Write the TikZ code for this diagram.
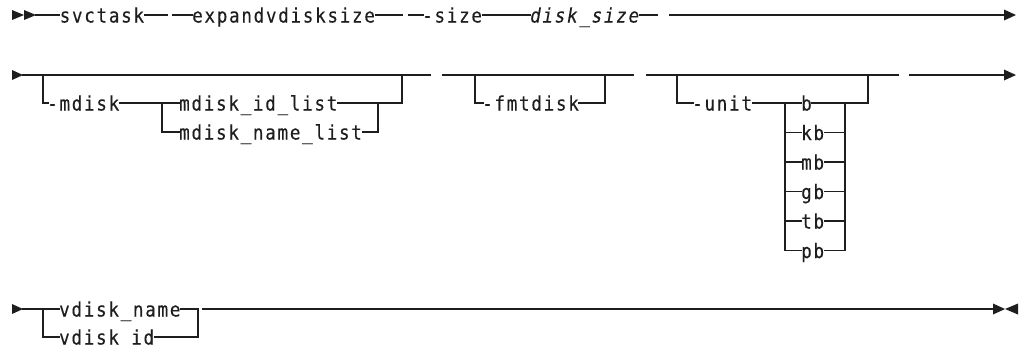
\documentclass[tikz,border=0pt]{standalone}
\usepackage{fontspec}
\usetikzlibrary{calc}
\newfontfamily\sdfont[FakeStretch=0.88,LetterSpace=8.5,FakeBold=0.2]{DejaVu Sans Mono}
\definecolor{ink}{HTML}{1E1E1E}
\begin{document}
\begin{tikzpicture}[x=1pt,y=-1pt,
  rr/.style={draw=ink,line width=1.2pt,line cap=rect},
  tohy/.style={shorten >=-1pt},
  lbl/.style={inner sep=0pt,anchor=base west,text=ink,font=\sdfont\fontsize{20}{22}\selectfont},
  ilbl/.style={lbl,font=\sdfont\itshape\fontsize{20}{22}\selectfont},
  tip/.style={fill=ink}]
\useasboundingbox (0,0) rectangle (1021,349);

% ---------- Row 1 ----------
\fill[tip] (12,10) -- (24,15) -- (12,20) -- cycle;
\fill[tip] (24,10) -- (36,15) -- (24,20) -- cycle;
\coordinate (r1s) at (36,15);
\node[lbl] (svc) at (59.5,22.5) {svctask};
\coordinate (r1g1) at (167,15);
\coordinate (r1g2) at (173,15);
\node[lbl] (exp) at (192,22.5) {expandvdisksize};
\coordinate (r1g3) at (402,15);
\coordinate (r1g4) at (409,15);
\node[lbl] (sz) at (422,22.5) {-size};
\node[ilbl] (dsz) at (530,22.5) {disk\_size};
\coordinate (r1g5) at (657,15);
\coordinate (r1g6) at (670,15);
\coordinate (r1e) at (1005,15);
\draw[rr] (r1s) -- (r1s -| svc.west);
\draw[rr] (r1s -| svc.east) -- (r1g1);
\draw[rr] (r1g2) -- (r1g2 -| exp.west);
\draw[rr] (r1g2 -| exp.east) -- (r1g3);
\draw[rr,tohy] (r1g4) -- (r1g4 -| sz.west);
\draw[rr] (r1g4 -| sz.east) -- (r1g4 -| dsz.west);
\draw[rr] (r1g4 -| dsz.east) -- (r1g5);
\draw[rr] (r1g6) -- (r1e);
\fill[tip] (1004,9.5) -- (1016,15) -- (1004,20.5) -- cycle;

% ---------- Row 2 ----------
\fill[tip] (12,70) -- (23,75) -- (12,80) -- cycle;
\coordinate (r2s) at (23,75);
\coordinate (m0) at (43,75);
\coordinate (m0b) at (43,103);
\coordinate (m5) at (402,75);
\coordinate (r2g1) at (430,75);
\draw[rr] (r2s) -- (r2g1);
\node[lbl] (md) at (47,110.5) {-mdisk};
\coordinate (mj1) at (162,103);
\coordinate (mj1b) at (162,132);
\coordinate (mj2) at (378,103);
\coordinate (mj2b) at (378,132);
\node[lbl] (mid) at (179,110.5) {mdisk\_id\_list};
\node[lbl] (mnm) at (179,139.5) {mdisk\_name\_list};
\draw[rr,tohy] (m0) -- (m0b) -- (md.west |- m0b);
\draw[rr] (md.east |- mj1) -- (mid.west |- mj1);
\draw[rr] (mj1) -- (mj1b) -- (mj1b -| mnm.west);
\draw[rr] (mid.east |- mj2) -- (mj2) -- (m5 |- mj2) -- (m5);
\draw[rr] (mj2b -| mnm.east) -- (mj2b) -- (mj2);

% -fmtdisk
\coordinate (f0) at (443,75);
\coordinate (f1) at (475,75);
\coordinate (f1b) at (475,103);
\coordinate (f2) at (605,75);
\coordinate (f3) at (633,75);
\draw[rr] (f0) -- (f3);
\node[lbl] (fmt) at (482,110.5) {-fmtdisk};
\draw[rr,tohy] (f1) -- (f1b) -- (f1b -| fmt.west);
\draw[rr] (f1b -| fmt.east) -- (f2 |- f1b) -- (f2);

% -unit
\coordinate (u0) at (647,75);
\coordinate (u1) at (677,75);
\coordinate (u1b) at (677,103);
\coordinate (u2) at (868,75);
\coordinate (u3) at (898,75);
\draw[rr] (u0) -- (u3);
\node[lbl] (unit) at (692,110.5) {-unit};
\foreach \t/\n [count=\k from 0] in {b/ub,kb/ukb,mb/umb,gb/ugb,tb/utb,pb/upb}{
  \coordinate (L\n) at (785,{103+29.5*\k});
  \coordinate (R\n) at (845,{103+29.5*\k});
  \node[lbl] (\n) at ($(L\n)+(16,7.5)$) {\t};
  \draw[rr] (L\n) -- (L\n -| \n.west);
  \draw[rr] (R\n -| \n.east) -- (R\n);
}
\draw[rr] (Lub) -- (Lupb);
\draw[rr] (Rub) -- (Rupb);
\draw[rr,tohy] (u1) -- (u1b) -- (u1b -| unit.west);
\draw[rr] (u1b -| unit.east) -- (Lub);
\draw[rr] (Rub) -- (u2 |- Rub) -- (u2);
\coordinate (r2g5) at (910,75);
\coordinate (r2e) at (1005,75);
\draw[rr] (r2g5) -- (r2e);
\fill[tip] (1004,69.5) -- (1016,75) -- (1004,80.5) -- cycle;

% ---------- Row 3 ----------
\fill[tip] (12,304) -- (23,309) -- (12,314) -- cycle;
\coordinate (r3s) at (23,309);
\coordinate (v0) at (43,309);
\coordinate (v0b) at (43,337);
\coordinate (v1) at (198,309);
\coordinate (v1b) at (198,337);
\coordinate (r3g) at (203,309);
\coordinate (r3e) at (993,309);
\node[lbl] (vn) at (59,316.5) {vdisk\_name};
\node[lbl] (vi) at (59,344.5) {vdisk id};
\draw[rr] (r3s) -- (vn.west |- r3s);
\draw[rr] (v0) -- (v0b) -- (v0b -| vi.west);
\draw[rr] (vn.east |- v1) -- (v1) -- (v1b) -- (v1b -| vi.east);
\draw[rr] (r3g) -- (r3e);
\fill[tip] (993,303.5) -- (1005,309) -- (993,314.5) -- cycle;
\fill[tip] (1018,303.5) -- (1005,309) -- (1018,314.5) -- cycle;
\end{tikzpicture}
\end{document}
